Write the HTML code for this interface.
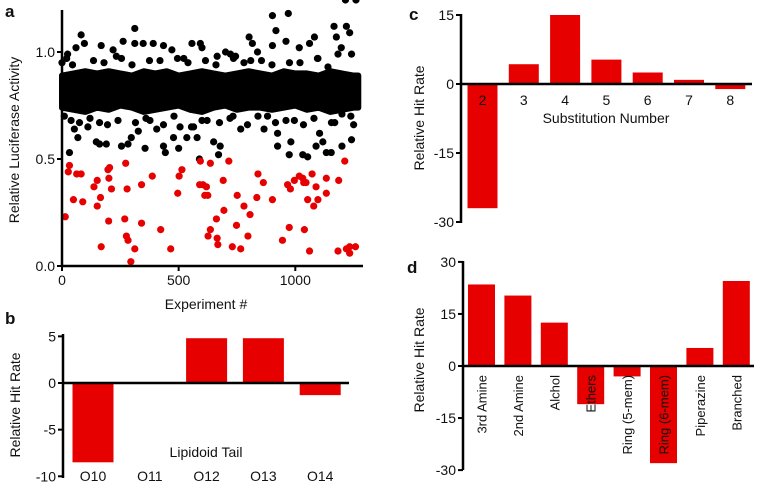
<!DOCTYPE html>
<html><head><meta charset="utf-8">
<style>
html,body{margin:0;padding:0;background:#fff;}
svg{display:block;font-family:"Liberation Sans",Arial,sans-serif;}
text{fill:#111;}
</style></head>
<body>
<svg id="fig" width="762" height="491" viewBox="0 0 762 491" xmlns="http://www.w3.org/2000/svg"></svg>
<script>
// ---------- Panel a data ----------
const redX = [14,32,27,49,63,82,89,137,151,151,165,168,197,204,201,212,200,269,273,279,276,283,295,312,341,341,387,423,466,496,502,514,593,590,604,612,619,625,626,636,636,662,665,668,691,694,715,730,748,751,766,780,797,806,835,840,863,902,945,967,974,979,996,1017,1032,1036,1039,1046,1053,1061,1072,1079,1089,1097,1133,1133,1183,1212,1219,1233,1258,1186,1233];
const redY = [.23,.47,.44,.31,.43,.43,.30,.37,.40,.28,.32,.09,.45,.46,.41,.36,.21,.22,.48,.36,.14,.12,.02,.08,.38,.20,.42,.17,.08,.34,.42,.45,.49,.38,.38,.33,.37,.33,.14,.17,.48,.22,.13,.10,.40,.26,.49,.09,.19,.33,.08,.28,.14,.24,.32,.43,.39,.31,.12,.38,.18,.36,.40,.42,.41,.39,.17,.39,.31,.07,.43,.28,.37,.31,.41,.34,.07,.49,.08,.09,.09,.40,.06];
const blackX = [0,24,82,96,60,32,39,53,68,111,147,161,190,168,219,262,255,283,297,312,312,327,356,348,391,406,435,443,435,471,478,500,506,557,535,564,593,589,600,579,650,665,671,678,701,722,744,766,802,816,838,866,902,902,917,924,924,960,970,974,981,1017,1032,1053,1061,1082,1089,1104,1118,1133,1154,1166,1176,1183,1200,1219,1233,1241,1197,1241,1226,1169,881,996,161,377,622,733,104,233,522,809,1097,1238,1238,10,45,120,180,240,300,360,420,480,540,600,660,720,780,840,900,960,1020,1080,1140,1200,1250,20,75,135,195,255,315,375,435,495,555,615,675,735,795,855,915,975,1035,1095,1155,1215,1260];
const blackY = [.95,.99,1.08,1.04,1.02,.53,.68,.64,.60,.65,.58,.57,.57,1.03,1.01,1.05,.56,.57,.60,1.11,1.04,.63,.55,1.04,1.04,.64,.56,.53,1.03,1.01,.60,.55,.65,1.04,.60,.65,1.04,.50,1.02,.60,.58,.98,.52,.56,1.0,.99,.98,.64,1.07,1.04,1.0,.64,1.03,1.17,1.10,.62,.56,1.05,1.18,.52,.58,1.02,.52,.51,1.04,1.07,.56,.62,.58,.53,.53,1.12,1.07,.99,.56,1.12,1.09,.59,1.02,.99,.76,.67,.70,.68,.67,.68,.68,.70,.78,.98,.97,.96,.97,.85,.70,.70,.94,.69,.95,.68,.94,.69,.96,.70,.95,.68,.94,.69,.95,.70,.94,.68,.95,.69,.93,.71,.66,.97,.67,.96,.66,.97,.67,.96,.66,.97,.65,.96,.67,.97,.66,.96,.67,.95,.66,.97,.67];
const bandX = [0,50,100,150,200,250,300,350,400,450,500,550,600,650,700,750,800,850,900,950,1000,1050,1100,1150,1200,1250,1270];
const bandLow = [.74,.73,.72,.74,.73,.75,.74,.72,.73,.74,.75,.73,.72,.74,.75,.73,.74,.74,.73,.74,.75,.73,.74,.72,.73,.74,.74];
const bandHigh = [.89,.90,.91,.90,.91,.90,.89,.91,.90,.91,.89,.90,.91,.90,.89,.90,.91,.90,.89,.91,.90,.90,.89,.91,.90,.89,.89];
const aXTicks = [0,500,1000];
const aYTicks = [0.0,0.5,1.0];
const aYLabels = ["0.0","0.5","1.0"];
// ---------- Panel b data ----------
const bCats = ["O10","O11","O12","O13","O14"];
const bVals = [-8.5,0,4.8,4.8,-1.3];
const bTicks = [5,0,-5,-10];
// ---------- Panel c data ----------
const cCats = ["2","3","4","5","6","7","8"];
const cVals = [-27,4.3,15,5.3,2.5,0.9,-1.1];
const cTicks = [15,0,-15,-30];
// ---------- Panel d data ----------
const dCats = ["3rd Amine","2nd Amine","Alchol","Ethers","Ring (5-mem)","Ring (6-mem)","Piperazine","Branched"];
const dVals = [23.5,20.3,12.5,-11,-3,-28,5.2,24.5];
const dTicks = [30,15,0,-15,-30];

const NS="http://www.w3.org/2000/svg";
const svg=document.getElementById('fig');
function mk(tag,attrs,parent,txt){const e=document.createElementNS(NS,tag);for(const k in attrs)e.setAttribute(k,attrs[k]);if(txt!==undefined)e.textContent=txt;(parent||svg).appendChild(e);return e;}
const RED="#e60000";

// ---------- Panel a ----------
const ga=mk('g',{});


const ax=v=>62+v*0.2333, ay=v=>266-v*214;
let d="M"+ax(bandX[0])+","+ay(bandHigh[0]);
for(let i=1;i<bandX.length;i++)d+=" L"+ax(bandX[i])+","+ay(bandHigh[i]);
for(let i=bandX.length-1;i>=0;i--)d+=" L"+ax(bandX[i])+","+ay(bandLow[i]);
const band=mk('path',{d:d+"Z",fill:"#000",stroke:"#000","stroke-width":6,"stroke-linejoin":"round"},ga);


for(let i=0;i<blackX.length;i++){
  const c=mk('circle',{cx:ax(blackX[i]),cy:ay(blackY[i]),r:3.6,fill:"#000"},ga);
  
  
}
for(let i=0;i<redX.length;i++){
  const c=mk('circle',{cx:ax(redX[i]),cy:ay(redY[i]),r:3.6,fill:RED},ga);
  
  
}
mk('line',{x1:62,y1:10,x2:62,y2:267,stroke:"#000","stroke-width":2.5},ga);
mk('line',{x1:61,y1:266,x2:363,y2:266,stroke:"#000","stroke-width":2.5},ga);
aXTicks.forEach(v=>{mk('line',{x1:ax(v),y1:266,x2:ax(v),y2:271,stroke:"#000","stroke-width":2},ga);
  const t=mk('text',{x:ax(v),y:285,"text-anchor":"middle","font-size":14},ga,String(v));
  });
aYTicks.forEach((v,i)=>{mk('line',{x1:57,y1:ay(v),x2:62,y2:ay(v),stroke:"#000","stroke-width":2},ga);
  const t=mk('text',{x:55,y:ay(v)+5,"text-anchor":"end","font-size":14},ga,aYLabels[i]);
  });
let t=mk('text',{x:206,y:309,"text-anchor":"middle","font-size":14},ga,"Experiment #");

t=mk('text',{transform:"translate(19,140) rotate(-90)","text-anchor":"middle","font-size":14},ga,"Relative Luciferase Activity");

t=mk('text',{x:5,y:17,"font-size":17,"font-weight":"bold"},ga,"a");


function barPanel(name,cats,vals,ticks,axisX,y0,unitPx,cat0,spacing,barW,zeroEnd,topY,botY,letter,lx,ly,ytitleX,ytitleY,opts){
  const g=mk('g',{});
  
  
  const sy=v=>y0-v*unitPx;
  vals.forEach((v,i)=>{
    const cx=cat0+i*spacing;
    const r=mk('rect',{x:cx-barW/2,y:Math.min(sy(v),y0),width:barW,height:Math.abs(sy(v)-y0),fill:RED},g);
    
    
  });
  mk('line',{x1:axisX,y1:topY,x2:axisX,y2:botY,stroke:"#000","stroke-width":2.5},g);
  mk('line',{x1:axisX,y1:y0,x2:zeroEnd,y2:y0,stroke:"#000","stroke-width":2.5},g);
  ticks.forEach(v=>{mk('line',{x1:axisX-5,y1:sy(v),x2:axisX,y2:sy(v),stroke:"#000","stroke-width":2},g);
    const tt=mk('text',{x:axisX-7,y:sy(v)+5,"text-anchor":"end","font-size":14},g,String(v));
    });
  cats.forEach((c,i)=>{
    const cx=cat0+i*spacing;let tt;
    if(opts.rotate){tt=mk('text',{transform:"translate("+(cx+5)+","+opts.labelY+") rotate(-90)","text-anchor":"end","font-size":13},g,c);}
    else tt=mk('text',{x:cx,y:opts.labelY,"text-anchor":"middle","font-size":14},g,c);
    
  });
  if(opts.xtitle){const tt=mk('text',{x:opts.xtX,y:opts.xtY,"text-anchor":"middle","font-size":14},g,opts.xtitle);
    }
  let tt=mk('text',{transform:"translate("+ytitleX+","+ytitleY+") rotate(-90)","text-anchor":"middle","font-size":14},g,"Relative Hit Rate");
  
  tt=mk('text',{x:lx,y:ly,"font-size":17,"font-weight":"bold"},g,letter);
  
}
barPanel('panel-b',bCats,bVals,bTicks,63,383,9.33,93,56.8,41,349,334,478,"b",5,324,20,405,{labelY:481,xtitle:"Lipidoid Tail",xtX:206,xtY:457});
barPanel('panel-c',cCats,cVals,cTicks,461,84,4.6,482.5,41.3,30,752,14,223,"c",409,20,424,118,{labelY:105,xtitle:"Substitution Number",xtX:606,xtY:123});
barPanel('panel-d',dCats,dVals,dTicks,463,366,3.47,481.5,36.4,27,754,261,470,"d",407,273,424,360,{labelY:375,rotate:true});
</script>
</body></html>
